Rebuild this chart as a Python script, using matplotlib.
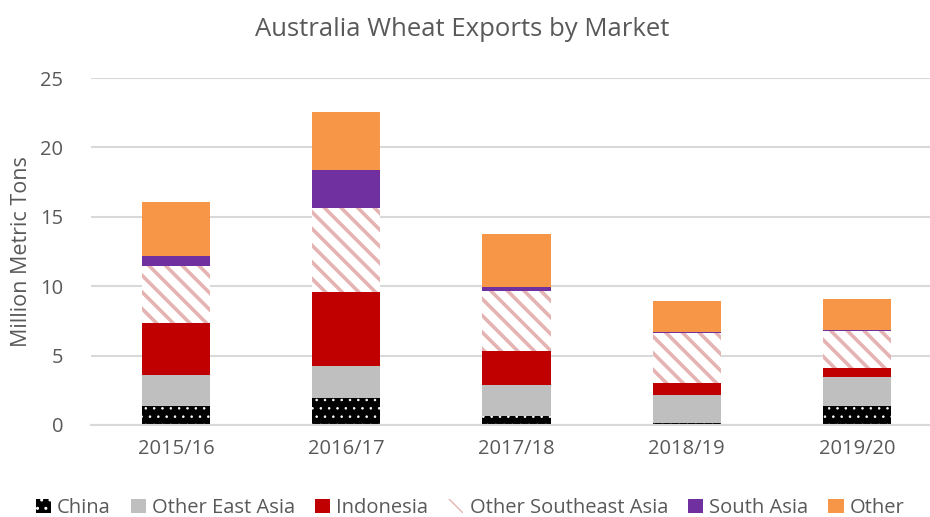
import numpy as np
import matplotlib.pyplot as plt

plt.rcParams['font.family'] = ['Open Sans', 'DejaVu Sans']

# =============================================================================
# DATA (million metric tons)
# =============================================================================

years = ['2015/16', '2016/17', '2017/18', '2018/19', '2019/20']

china = [1.37, 1.97, 0.65, 0.17, 1.39]
other_east_asia = [2.23, 2.28, 2.23, 1.97, 2.04]
indonesia = [3.73, 5.31, 2.45, 0.91, 0.65]
other_se_asia = [4.12, 6.05, 4.32, 3.60, 2.69]
south_asia = [0.73, 2.76, 0.29, 0.05, 0.05]
other = [3.89, 4.20, 3.82, 2.26, 2.28]

series = [
    ('China', china),
    ('Other East Asia', other_east_asia),
    ('Indonesia', indonesia),
    ('Other Southeast Asia', other_se_asia),
    ('South Asia', south_asia),
    ('Other', other),
]

styles = {
    'China': dict(color='black', edgecolor='white', hatch='..'),
    'Other East Asia': dict(color='#BFBFBF', edgecolor='#BFBFBF'),
    'Indonesia': dict(color='#C00000', edgecolor='#C00000'),
    'Other Southeast Asia': dict(color='white', edgecolor='#E6B3B3', hatch='\\\\'),
    'South Asia': dict(color='#7030A0', edgecolor='#7030A0'),
    'Other': dict(color='#F79646', edgecolor='#F79646'),
}
hatch_lw = {'China': 0.6, 'Other Southeast Asia': 2.6}

txt = '#595959'

fig = plt.figure(figsize=(9.3, 5.17), dpi=100)
ax = fig.add_axes([91/930, 92/517, 851/930, 347/517])

x = np.arange(len(years))
bottom = np.zeros(len(years))
for name, vals in series:
    plt.rcParams['hatch.linewidth'] = hatch_lw.get(name, 1.0)
    ax.bar(x, vals, width=0.4, bottom=bottom, label=name, linewidth=0, **styles[name])
    bottom += np.array(vals)

ax.set_xlim(-0.5, 4.5)
ax.set_ylim(0, 25)
ax.set_yticks([0, 5, 10, 15, 20, 25])
ax.set_xticks(x)
ax.set_xticklabels(years)
ax.tick_params(axis='both', length=0, labelsize=14.5, colors=txt)
ax.tick_params(axis='x', pad=10)
ax.tick_params(axis='y', pad=20)

ax.grid(axis='y', color='#D9D9D9', linewidth=1.5)
ax.set_axisbelow(True)
for s in ['top', 'right', 'left']:
    ax.spines[s].set_visible(False)
ax.spines['bottom'].set_color('#D9D9D9')
ax.spines['bottom'].set_linewidth(1.5)

ax.set_ylabel('Million Metric Tons', fontsize=15.5, color=txt, labelpad=6)
fig.text(462/930, 1 - 30/517, 'Australia Wheat Exports by Market', ha='center', va='center',
         fontsize=18.5, color=txt)

fig.legend(loc='center', bbox_to_anchor=(470/930, 1 - 508/517), ncol=6, frameon=False,
           fontsize=14.5, labelcolor=txt, handlelength=0.75, handleheight=0.75,
           handletextpad=0.3, columnspacing=1.0)

plt.savefig('out.png', dpi=100)
